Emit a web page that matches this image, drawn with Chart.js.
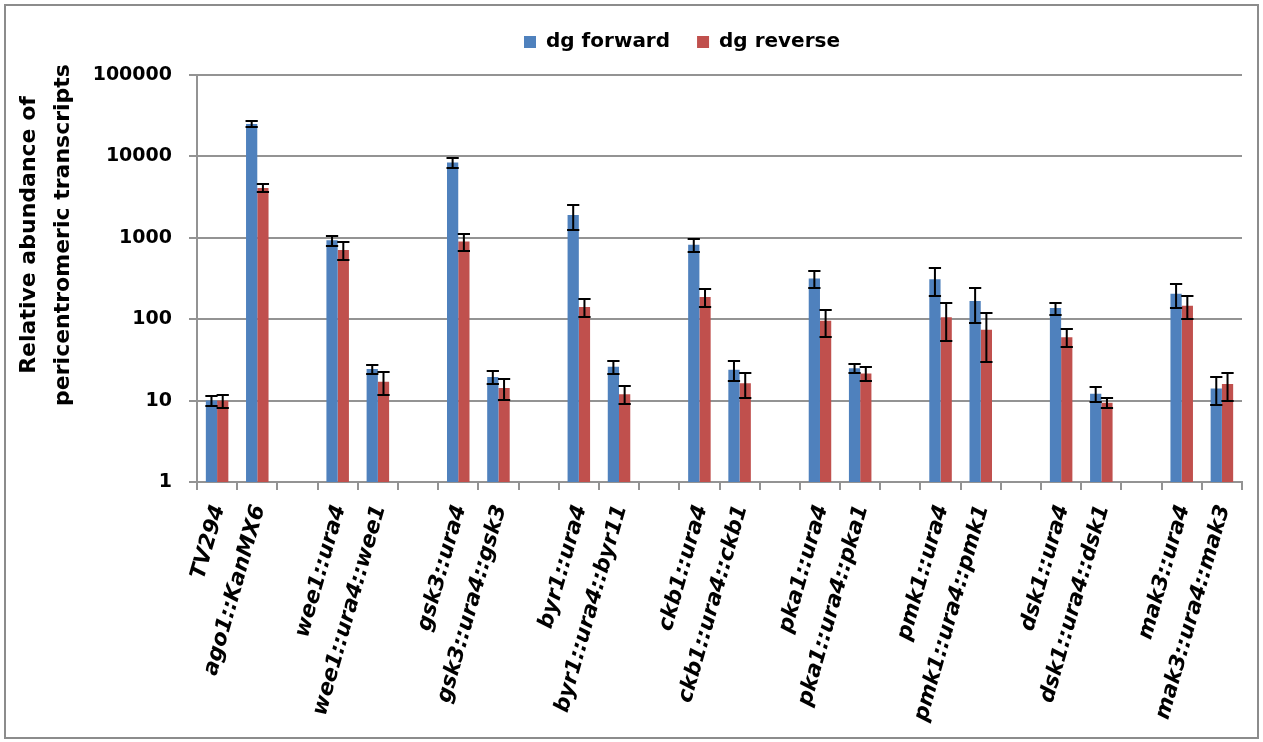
<!DOCTYPE html>
<html>
<head>
<meta charset="utf-8">
<title>Pericentromeric transcripts</title>
<script src="https://cdn.jsdelivr.net/npm/chart.js@4.4.1/dist/chart.umd.min.js"></script>
<style>
  html, body { margin: 0; padding: 0; background: #fff; overflow: hidden; }
  #wrap { position: relative; width: 1263px; height: 742px; }
</style>
</head>
<body>
<div id="wrap"><canvas id="chart"></canvas></div>
<script>
// Strains (empty strings are spacer columns between groups)
const categories = [
  'TV294', 'ago1::KanMX6', '',
  'wee1::ura4', 'wee1::ura4::wee1', '',
  'gsk3::ura4', 'gsk3::ura4::gsk3', '',
  'byr1::ura4', 'byr1::ura4::byr11', '',
  'ckb1::ura4', 'ckb1::ura4::ckb1', '',
  'pka1::ura4', 'pka1::ura4::pka1', '',
  'pmk1::ura4', 'pmk1::ura4::pmk1', '',
  'dsk1::ura4', 'dsk1::ura4::dsk1', '',
  'mak3::ura4', 'mak3::ura4::mak3'
];

const seriesNames = ['dg forward', 'dg reverse'];

const forwardValues = [10, 25000, null, 930, 24.5, null, 8400, 19.5, null, 1900, 26, null,
  820, 24, null, 316, 25, null, 310, 167, null, 137, 12.1, null, 205, 14.1];
const forwardErrors = [1.5, 2200, null, 130, 3.2, null, 1250, 3.3, null, 650, 4.6, null,
  145, 6.5, null, 76, 3.3, null, 116, 76, null, 23, 2.4, null, 68, 5.3];

const reverseValues = [10, 4100, null, 710, 17, null, 900, 14.3, null, 141, 12, null,
  188, 16.3, null, 96, 21.5, null, 106, 74, null, 60, 9.4, null, 146, 16];
const reverseErrors = [1.8, 480, null, 180, 5.3, null, 210, 4, null, 35, 3, null,
  45, 5.4, null, 35, 4.1, null, 52, 44, null, 15, 1.4, null, 46, 6];

const yTickValues = [1, 10, 100, 1000, 10000, 100000];
const yTitleLines = ['Relative abundance of', 'pericentromeric transcripts'];

const FONT = '"DejaVu Sans", "Liberation Sans", sans-serif';
const GRID = '#939393';
const BLUE = '#4f81bd';
const RED = '#c0504d';

// White page background and the thin frame around the whole figure
const frame = {
  id: 'frame',
  beforeDraw(chart) {
    const ctx = chart.ctx;
    ctx.save();
    ctx.fillStyle = '#fff';
    ctx.fillRect(0, 0, chart.width, chart.height);
    ctx.restore();
  },
  afterDraw(chart) {
    const ctx = chart.ctx;
    ctx.save();
    ctx.strokeStyle = '#8c8c8c';
    ctx.lineWidth = 2;
    ctx.strokeRect(5, 5, chart.width - 10, chart.height - 9);
    ctx.restore();
  }
};

// Symmetric error bars with caps, positioned from the bar elements and y scale
const errorBars = {
  id: 'errorBars',
  afterDatasetsDraw(chart) {
    const ctx = chart.ctx;
    const yScale = chart.scales.y;
    ctx.save();
    ctx.strokeStyle = '#000';
    ctx.lineWidth = 2;
    chart.data.datasets.forEach((ds, di) => {
      const meta = chart.getDatasetMeta(di);
      meta.data.forEach((bar, i) => {
        const v = ds.data[i];
        const e = ds.errors[i];
        if (v == null || e == null) return;
        const top = Math.round(yScale.getPixelForValue(v + e));
        const bot = Math.round(yScale.getPixelForValue(Math.max(v - e, 1)));
        const half = bar.width / 2 + 0.5;
        const x = bar.x;
        ctx.beginPath();
        ctx.moveTo(x, top); ctx.lineTo(x, bot);
        ctx.moveTo(x - half, top); ctx.lineTo(x + half, top);
        ctx.moveTo(x - half, bot); ctx.lineTo(x + half, bot);
        ctx.stroke();
      });
    });
    ctx.restore();
  }
};

// Legend sits a little left of the plot centre, just above the top gridline
const LEGEND_X = 524, LEGEND_Y = 42, LEGEND_FONT = 20;
const legendPlacement = {
  id: 'legendPlacement',
  afterUpdate(chart) {
    const lg = chart.legend;
    if (!lg || !lg.legendHitBoxes || !lg.legendHitBoxes.length) return;
    const pad = lg.options.labels.padding;
    const dx = LEGEND_X - lg.legendHitBoxes[0].left;
    const dy = LEGEND_Y - (lg.top + pad + LEGEND_FONT / 2);
    lg.left += dx; lg.right += dx;
    lg.top += dy; lg.bottom += dy;
    lg.adjustHitBoxes();
  }
};

// Two-line rotated y-axis title
const yTitle = {
  id: 'yTitle',
  afterDraw(chart) {
    const ctx = chart.ctx;
    ctx.save();
    ctx.fillStyle = '#000';
    ctx.font = 'bold 22px ' + FONT;
    ctx.textAlign = 'center';
    ctx.textBaseline = 'alphabetic';
    const baselines = [35, 69];
    yTitleLines.forEach((line, i) => {
      ctx.save();
      ctx.translate(baselines[i], 235);
      ctx.rotate(-Math.PI / 2);
      ctx.fillText(line, 0, 0);
      ctx.restore();
    });
    ctx.restore();
  }
};

new Chart(document.getElementById('chart'), {
  type: 'bar',
  data: {
    labels: categories,
    datasets: [
      { label: seriesNames[0], data: forwardValues, errors: forwardErrors,
        backgroundColor: BLUE, borderWidth: 0 },
      { label: seriesNames[1], data: reverseValues, errors: reverseErrors,
        backgroundColor: RED, borderWidth: 0 }
    ]
  },
  options: {
    responsive: true,
    maintainAspectRatio: false,
    animation: false,
    devicePixelRatio: 1,
    categoryPercentage: 0.56,
    barPercentage: 1.0,
    layout: { padding: { left: 0, right: 21, top: 18, bottom: 0 } },
    plugins: {
      tooltip: { enabled: false },
      legend: {
        position: 'top',
        align: 'center',
        labels: {
          boxWidth: 12,
          boxHeight: 12,
          padding: 27,
          color: '#000',
          font: { family: FONT, size: LEGEND_FONT, weight: 'bold' }
        }
      }
    },
    scales: {
      x: {
        grid: {
          offset: true,
          drawOnChartArea: false,
          drawTicks: true,
          tickLength: 8,
          color: GRID,
          lineWidth: 2
        },
        border: { display: true, color: GRID, width: 2 },
        ticks: {
          autoSkip: false,
          minRotation: 74,
          maxRotation: 74,
          padding: 12,
          labelOffset: 2,
          color: '#000',
          font: { family: FONT, size: 21.5, weight: 'bold', style: 'italic' }
        },
        afterFit(scale) { scale.height = 260; }
      },
      y: {
        type: 'logarithmic',
        min: 1,
        max: 100000,
        afterBuildTicks(scale) {
          scale.ticks = yTickValues.map(v => ({ value: v }));
        },
        ticks: {
          autoSkip: false,
          padding: 17,
          color: '#000',
          font: { family: FONT, size: 19, weight: 'bold' },
          callback: (v) => String(v)
        },
        grid: { color: GRID, lineWidth: 2, tickLength: 8, drawTicks: true },
        border: { display: true, color: GRID, width: 2 },
        afterFit(scale) { scale.width = 197; }
      }
    }
  },
  plugins: [frame, errorBars, legendPlacement, yTitle]
});
</script>
</body>
</html>
